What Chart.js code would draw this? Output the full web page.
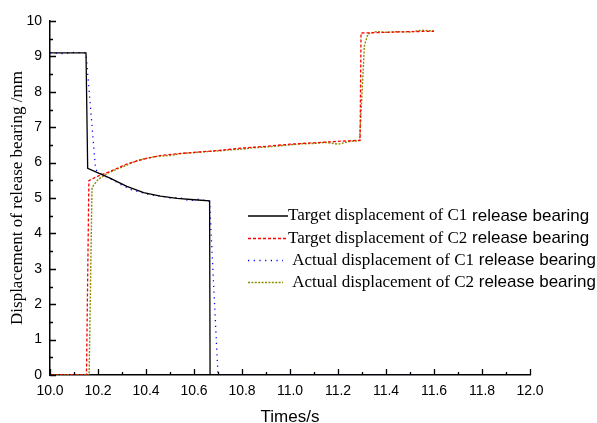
<!DOCTYPE html>
<html>
<head>
<meta charset="utf-8">
<script src="https://cdn.jsdelivr.net/npm/chart.js@4/dist/chart.umd.min.js"></script>
<style>
	html, body { margin: 0; padding: 0; background: #fff; }
	#wrap { width: 597px; height: 423px; }
</style>
</head>
<body>
<div id="wrap"><canvas id="myChart"></canvas></div>
<script>
// target / actual displacement of the two release bearings (time in s, value in mm)
const c1TargetT = [10.0, 10.15, 10.157, 10.2, 10.25, 10.32, 10.39, 10.46, 10.53, 10.6, 10.665, 10.667, 11.6];
const c1TargetV = [9.1, 9.1, 5.84, 5.71, 5.56, 5.33, 5.15, 5.05, 4.99, 4.95, 4.92, 0, 0];

const c2TargetT = [10.0, 10.152, 10.162, 10.2, 10.25, 10.32, 10.39, 10.46, 10.53, 10.6, 10.7, 10.8, 10.9, 11.0, 11.1, 11.2, 11.292, 11.296, 11.4, 11.5, 11.6];
const c2TargetV = [0, 0, 5.49, 5.62, 5.75, 5.96, 6.1, 6.2, 6.25, 6.29, 6.34, 6.41, 6.46, 6.52, 6.56, 6.6, 6.63, 9.66, 9.68, 9.7, 9.71];

const c1ActualT = [10.0, 10.05, 10.1, 10.15, 10.19, 10.22, 10.26, 10.3, 10.34, 10.38, 10.42, 10.46, 10.5, 10.54, 10.58, 10.62, 10.665, 10.7, 11.6];
const c1ActualV = [9.1, 9.08, 9.11, 9.1, 5.8, 5.64, 5.52, 5.36, 5.23, 5.16, 5.08, 5.06, 5.0, 5.01, 4.92, 4.97, 4.9, 0, 0];

const c2ActualT = [10.0, 10.1, 10.163, 10.175, 10.2, 10.24, 10.28, 10.32, 10.36, 10.4, 10.45, 10.5, 10.55, 10.6, 10.65, 10.7, 10.75, 10.8, 10.85, 10.9, 10.95, 11.0, 11.05, 11.1, 11.15, 11.2, 11.25, 11.29, 11.31, 11.325, 11.36, 11.4, 11.45, 11.5, 11.55, 11.6];
const c2ActualV = [0, 0, 0, 5.3, 5.52, 5.7, 5.82, 5.93, 6.05, 6.12, 6.18, 6.2, 6.26, 6.28, 6.31, 6.33, 6.36, 6.38, 6.42, 6.44, 6.47, 6.5, 6.53, 6.54, 6.57, 6.52, 6.6, 6.62, 9.3, 9.64, 9.7, 9.68, 9.7, 9.69, 9.74, 9.72];

const legendNames = [
	['Target displacement of C1', ' release bearing'],
	['Target displacement of C2', ' release bearing'],
	[' Actual displacement of C1', ' release bearing'],
	[' Actual displacement of C2', ' release bearing']
];

const xTicks = [10.0, 10.2, 10.4, 10.6, 10.8, 11.0, 11.2, 11.4, 11.6, 11.8, 12.0];
const yTicks = [0, 1, 2, 3, 4, 5, 6, 7, 8, 9, 10];

const SERIF = '"Liberation Serif", "Times New Roman", serif';
const SANS = '"Liberation Sans", Arial, sans-serif';

const pts = (t, v) => t.map((x, i) => ({ x, y: v[i] }));

const series = [
	{ data: pts(c1TargetT, c1TargetV), color: '#000000', dash: [], width: 1.3 },
	{ data: pts(c2TargetT, c2TargetV), color: '#ff0000', dash: [3, 2], width: 1.3 },
	{ data: pts(c1ActualT, c1ActualV), color: '#0000ff', dash: [1.2, 4.5], width: 1.3 },
	{ data: pts(c2ActualT, c2ActualV), color: '#8c8c00', dash: [2, 1.4], width: 1.4 }
];

// inward major + minor ticks, and the two-font legend
const decorPlugin = {
	id: 'decor',
	afterDraw(chart) {
		const { ctx, scales: { x, y } } = chart;
		ctx.save();
		ctx.strokeStyle = '#000';
		ctx.lineWidth = 1.3;
		ctx.beginPath();
		for (let i = 0; i <= 20; i++) {
			const px = Math.round(x.getPixelForValue(10 + i * 0.1)) + 0.5;
			const len = i % 2 === 0 ? 6 : 3;
			ctx.moveTo(px, y.bottom);
			ctx.lineTo(px, y.bottom - len);
		}
		for (let i = 0; i <= 20; i++) {
			const py = Math.round(y.getPixelForValue(i * 0.5)) + 0.5;
			const len = i % 2 === 0 ? 6 : 3;
			ctx.moveTo(x.left, py);
			ctx.lineTo(x.left + len, py);
		}
		ctx.stroke();

		const rowY = [216, 238.5, 260.5, 282.5];
		legendNames.forEach((parts, i) => {
			const s = series[i];
			ctx.save();
			ctx.strokeStyle = s.color;
			ctx.lineWidth = s.width;
			ctx.setLineDash(s.dash);
			ctx.beginPath();
			ctx.moveTo(248, rowY[i]);
			ctx.lineTo(i < 2 ? 288 : 283, rowY[i]);
			ctx.stroke();
			ctx.restore();

			ctx.fillStyle = '#000';
			ctx.textBaseline = 'middle';
			ctx.font = '17px ' + SERIF;
			let tx = 288;
			ctx.fillText(parts[0], tx, rowY[i]);
			tx += ctx.measureText(parts[0]).width;
			ctx.font = '17px ' + SANS;
			ctx.fillText(parts[1], tx, rowY[i]);
		});
		ctx.restore();
	}
};

const ctx = document.getElementById('myChart').getContext('2d');

new Chart(ctx, {
	type: 'line',
	data: {
		datasets: series.map((s, i) => ({
			label: legendNames[i].join(''),
			data: s.data,
			borderColor: s.color,
			borderDash: s.dash,
			borderWidth: s.width,
			pointRadius: 0,
			fill: false,
			tension: 0
		}))
	},
	options: {
		responsive: true,
		maintainAspectRatio: false,
		animation: false,
		layout: { padding: { top: 21, right: 67, left: 0, bottom: 0 } },
		plugins: {
			legend: { display: false },
			tooltip: { enabled: false }
		},
		scales: {
			x: {
				type: 'linear',
				min: 10,
				max: 12,
				afterFit: (s) => { s.height = 48; },
				afterBuildTicks: (s) => { s.ticks = xTicks.map((v) => ({ value: v })); },
				grid: { display: false, drawTicks: false },
				border: { display: true, color: '#000', width: 1.5 },
				ticks: {
					padding: 8,
					color: '#000',
					font: { family: SANS, size: 14 },
					maxRotation: 0,
					callback: (v) => v.toFixed(1)
				},
				title: {
					display: true,
					text: 'Times/s',
					color: '#000',
					font: { family: SANS, size: 17, lineHeight: 1 },
					padding: { top: 0, bottom: -2.5 }
				}
			},
			y: {
				min: 0,
				max: 10,
				afterFit: (s) => { s.width = 50; },
				afterBuildTicks: (s) => { s.ticks = yTicks.map((v) => ({ value: v })); },
				grid: { display: false, drawTicks: false },
				border: { display: true, color: '#000', width: 1.5 },
				ticks: {
					padding: 8,
					color: '#000',
					font: { family: SANS, size: 14 }
				},
				title: {
					display: true,
					text: 'Displacement of release bearing /mm',
					color: '#000',
					font: { family: SERIF, size: 17, lineHeight: 1 },
					padding: { top: 9.5, bottom: 0 }
				}
			}
		}
	},
	plugins: [decorPlugin]
});
</script>
</body>
</html>
